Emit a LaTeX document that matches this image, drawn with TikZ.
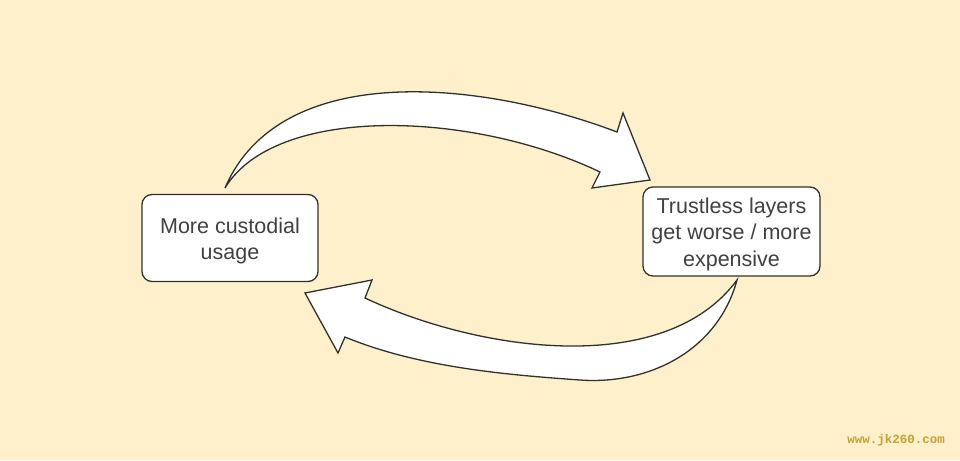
\documentclass[tikz,border=0pt]{standalone}
\usepackage{fontspec}
\setmainfont{Liberation Sans}
\newfontfamily\wmfont{Liberation Mono}
\definecolor{bgc}{RGB}{253,240,202}
\definecolor{edgec}{RGB}{50,50,45}
\definecolor{txtc}{RGB}{65,65,65}
\definecolor{wmc}{RGB}{200,160,50}
\tikzset{
  box/.style={draw=edgec, line width=1.3pt, rounded corners=10pt, fill=white, inner sep=0pt},
  boxtext/.style={align=center, text=txtc, font=\fontsize{21.5}{26.5}\selectfont, inner sep=0pt},
  blockarrow/.style={draw=edgec, line width=1.3pt, fill=white, line join=miter}
}
\begin{document}
\begin{tikzpicture}[x=1pt,y=-1pt]
\useasboundingbox[fill=bgc] (0,0) rectangle (960,460);
% boxes
\node[box, minimum width=176pt, minimum height=87pt] (l) at (230,238) {};
\node[boxtext, yshift=-3pt] (lt) at (l.center) {More custodial\\usage};
\node[box, minimum width=177pt, minimum height=89pt] (r) at (731.5,231.5) {};
\node[boxtext, yshift=-2.5pt] (rt) at (r.center) {Trustless layers\\get worse / more\\expensive};
% top curved block arrow
\draw[blockarrow] (225,188) .. controls (280,60) and (480,80) .. (617,132)
  -- (623,113) -- (650,180) -- (592,188) -- (600,172)
  .. controls (470,110) and (275,105) .. (225,188) -- cycle;
% bottom curved block arrow
\draw[blockarrow] (737,280) .. controls (718,350) and (650,385) .. (580,380)
  .. controls (510,375) and (420,368) .. (345,337)
  -- (338,353) -- (305,293) -- (372,280) -- (365,298)
  .. controls (480,352) and (665,378) .. (737,280) -- cycle;
% watermark
\node[text=wmc, font=\wmfont\bfseries\fontsize{12.5}{14}\selectfont, anchor=center] (wm) at (896,440) {www.jk260.com};
\end{tikzpicture}
\end{document}
